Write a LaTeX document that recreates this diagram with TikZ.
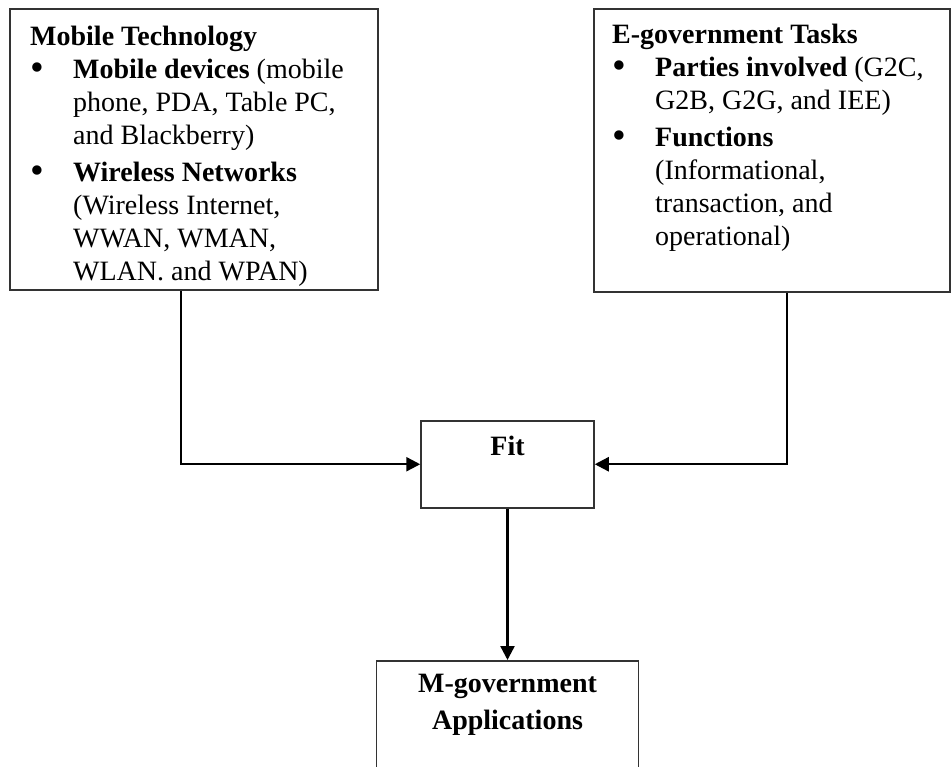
\documentclass[tikz,border=0pt]{standalone}
\usepackage{fontspec}
\usepackage{graphicx}
\setmainfont{Liberation Serif}
\usetikzlibrary{arrows.meta,positioning}

\newcommand\itemdot{\makebox[43pt][l]{\raisebox{-2pt}{\scalebox{1.4}{\textbullet}}}}
\newcommand\itemgap{\hspace*{43pt}}

\begin{document}
\begin{tikzpicture}[
    x=1pt, y=-1pt,
    box/.style={draw=black!80, line width=1.5pt, inner sep=0pt},
    txt/.style={inner sep=0pt, align=left, font=\fontsize{28}{33}\selectfont},
    arr/.style={-{Triangle[length=14pt,width=14pt]}, line width=2.4pt}
]
\useasboundingbox (0,0) rectangle (952,767);
\clip (0,0) rectangle (952,767);

% the two input boxes
\node[box, minimum width=368pt, minimum height=281pt] (mobile) at (194,149.5) {};
\node[box, minimum width=356pt, minimum height=283pt] (egov) at (772,150.5) {};
\node[txt, anchor=north west] (mobiletext) at (30,26) {%
    \textbf{Mobile Technology}\\
    \itemdot\textbf{Mobile devices} (mobile\\
    \itemgap phone, PDA, Table PC,\\
    \itemgap and Blackberry)\\[4pt]
    \itemdot\textbf{Wireless Networks}\\
    \itemgap (Wireless Internet,\\
    \itemgap WWAN, WMAN,\\
    \itemgap WLAN. and WPAN)};
\node[txt, anchor=north west] (egovtext) at (612,24) {%
    \textbf{E-government Tasks}\\
    \itemdot\textbf{Parties involved} (G2C,\\
    \itemgap G2B, G2G, and IEE)\\[4pt]
    \itemdot\textbf{Functions}\\
    \itemgap (Informational,\\
    \itemgap transaction, and\\
    \itemgap operational)};

% fit and result
\node[box, txt, anchor=north, minimum width=173pt, text height=35pt, text depth=52pt] (fit) at (507.5,420) {\textbf{Fit}};
\node[box, anchor=north, minimum width=262pt, minimum height=130pt] (mgov) at (507.5,660) {};
\node[txt, align=center, anchor=north] (mgovtext) at (507.5,674) {\textbf{M-government}\\[4pt]\textbf{Applications}};

\draw[arr] ([xshift=172pt]mobile.south west) |- (fit.west);
\draw[arr] ([xshift=194pt]egov.south west) |- (fit.east);
\draw[arr] (fit) -- (mgov);
\end{tikzpicture}
\end{document}
